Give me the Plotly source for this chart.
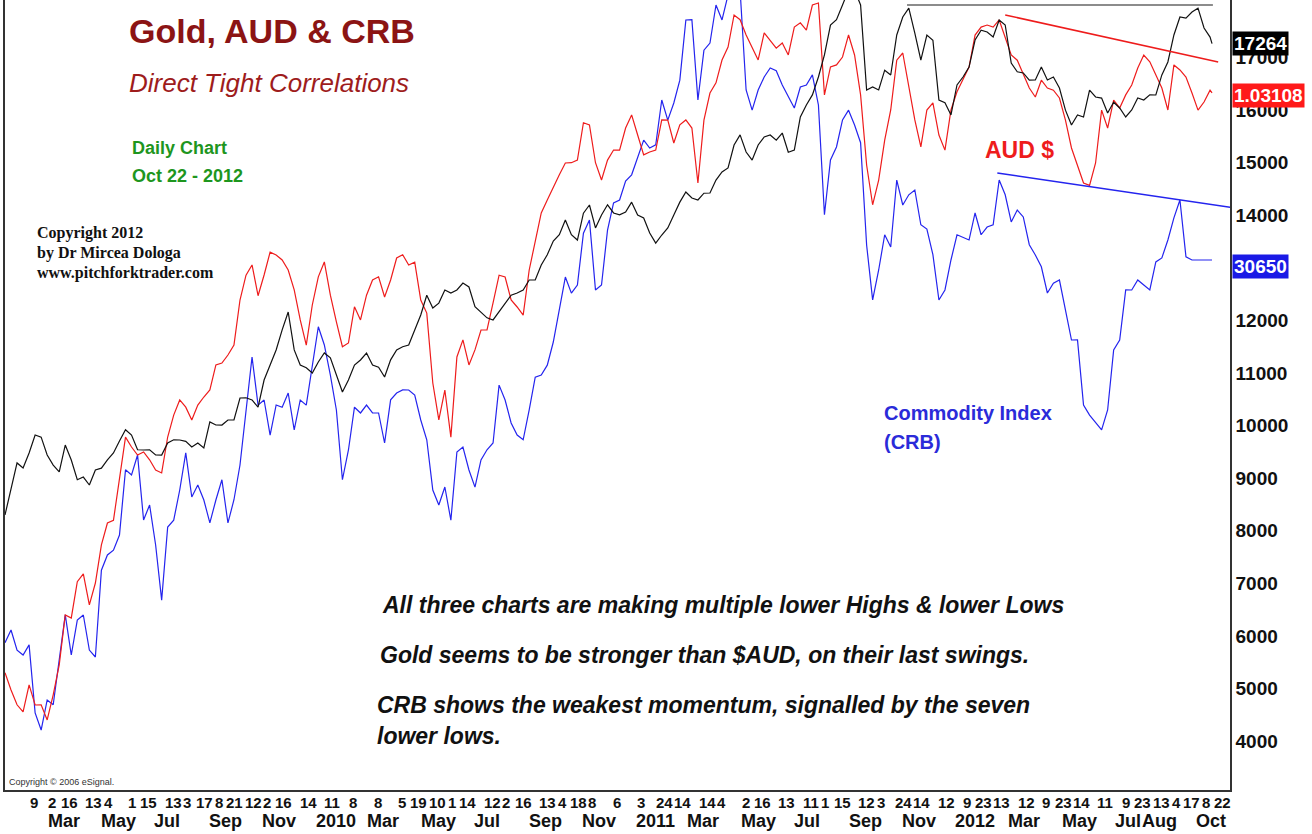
import pandas as pd
import plotly.graph_objects as go

# ---- data (chart display units; one sample every ~6.9 days) ----
sample_dates = list(pd.date_range("2009-01-13 18:00", periods=201, freq=pd.Timedelta(hours=165))) + [pd.Timestamp("2012-10-22")]

gold = [8300, 8775, 9290, 9194, 9480, 9821, 9780, 9441, 9250, 9118,
        9630, 9346, 8970, 9022, 8870, 9156, 9190, 9346, 9480, 9707,
        9920, 9821, 9540, 9536, 9540, 9441, 9440, 9669, 9730, 9726,
        9700, 9593, 9670, 9574, 10070, 10011, 10010, 10107, 10110, 10525,
        10530, 10487, 10350, 10867, 11150, 11438, 11820, 12161, 11440, 11153,
        11100, 11001, 11210, 11381, 11290, 10962, 10640, 10867, 11150, 11248,
        11380, 11153, 11110, 10924, 11250, 11438, 11500, 11533, 11820, 12104,
        12480, 12237, 12330, 12579, 12520, 12579, 12710, 12636, 12260, 12161,
        12050, 12009, 12160, 12332, 12480, 12522, 12580, 12769, 12770, 13055,
        13250, 13511, 13630, 13911, 13630, 13530, 14040, 14196, 13760, 14006,
        14200, 14044, 14010, 14063, 14250, 14006, 13950, 13663, 13470, 13625,
        13760, 14006, 14250, 14443, 14330, 14291, 14420, 14424, 14670, 14824,
        14900, 15337, 15530, 15204, 15050, 15337, 15490, 15527, 15430, 15565,
        15200, 15242, 15870, 16098, 16290, 16630, 17050, 17619, 17720, 18000,
        18285, 18285, 18000, 16383, 16440, 16383, 16760, 16668, 17430, 17772,
        17940, 17467, 16950, 17429, 17330, 16193, 16140, 15908, 16480, 16630,
        16820, 17334, 17520, 17486, 17390, 17715, 17620, 16897, 16730, 16707,
        16570, 16573, 16820, 16573, 16630, 16421, 16000, 15717, 15910, 15870,
        16380, 16250, 16230, 15946, 16150, 16041, 15870, 16003, 16230, 16193,
        16290, 16288, 16670, 16916, 17430, 17772, 17750, 17867, 17940, 17562,
        17390, 17264]

aud = [5300, 4971, 4690, 4553, 5070, 4686, 4690, 4401, 4880, 5447,
       6400, 6341, 7030, 7179, 6590, 7006, 7730, 8148, 8200, 8965,
       9780, 9593, 9440, 9498, 9350, 9156, 9100, 9783, 10200, 10487,
       10350, 10107, 10390, 10544, 10680, 11153, 11190, 11343, 11530, 12389,
       12860, 13055, 12470, 12864, 13300, 13245, 13150, 12960, 12580, 12009,
       11530, 12294, 12830, 13112, 12480, 11971, 11500, 11571, 12260, 12009,
       12480, 12769, 12830, 12446, 12770, 13188, 13250, 13055, 13110, 12389,
       12140, 10810, 10110, 10677, 9780, 11305, 11630, 11153, 11440, 11818,
       11820, 12332, 12860, 12826, 12390, 12256, 12100, 12960, 13470, 14044,
       14290, 14538, 14770, 14995, 15000, 15052, 15760, 15717, 15000, 14671,
       15050, 15242, 15240, 15660, 15910, 15527, 15150, 15204, 15240, 15813,
       15810, 15375, 15720, 15813, 15660, 14614, 15810, 16326, 16520, 16954,
       17200, 17810, 17720, 17429, 17180, 16954, 17470, 17334, 17180, 17277,
       17050, 17581, 17660, 17524, 18000, 18038, 16290, 16821, 16860, 17011,
       17430, 17049, 16290, 14957, 14200, 14671, 15430, 16003, 16950, 17087,
       16440, 15813, 15300, 16003, 16140, 15527, 15240, 16003, 16350, 16573,
       16820, 17429, 17580, 17619, 17580, 17715, 17390, 17049, 16950, 16668,
       16420, 16250, 16570, 16421, 16380, 16231, 15810, 15280, 14960, 14614,
       14570, 14995, 16000, 15660, 16190, 16041, 16290, 16478, 16800, 17049,
       16920, 16668, 16420, 16003, 16860, 16764, 16630, 16326, 16000, 16155,
       16380, 16330]

crb = [5870, 6112, 5730, 5637, 5830, 4534, 4210, 4781, 4690, 5542,
       6400, 5637, 6300, 6398, 5730, 5599, 7250, 7539, 7630, 7919,
       9160, 9060, 9440, 8205, 8490, 7729, 6680, 8071, 8200, 8775,
       9480, 8642, 8870, 8585, 8150, 8585, 8970, 8148, 8590, 9251,
       10300, 11305, 10390, 10487, 9820, 10392, 10350, 10620, 9920, 10487,
       10390, 11153, 11880, 11533, 10960, 10297, 8970, 9536, 10350, 10240,
       10390, 10240, 10240, 9669, 10490, 10620, 10680, 10677, 10580, 10107,
       9730, 8775, 8490, 8832, 8200, 9498, 9590, 9156, 8830, 9346,
       9540, 9669, 10770, 10487, 10050, 9821, 9730, 10297, 10920, 10962,
       11150, 11590, 12200, 12826, 12520, 12674, 13660, 13911, 12580, 12674,
       13720, 14234, 14290, 14652, 14770, 15109, 15430, 15280, 15340, 16193,
       15810, 16136, 16570, 17715, 17720, 16193, 17140, 17277, 18000, 17715,
       18190, 18247, 18285, 16383, 16000, 16383, 16630, 16802, 16750, 16478,
       16250, 16041, 16440, 16478, 16670, 16098, 14010, 15052, 15300, 15813,
       16000, 15717, 15380, 13435, 12390, 12960, 13630, 13397, 14670, 14196,
       14390, 14481, 13820, 13739, 13250, 12389, 12580, 13150, 13630, 13587,
       13530, 14044, 13630, 13777, 13820, 14671, 14390, 13873, 14100, 13968,
       13440, 13245, 13020, 12522, 12710, 12769, 12200, 11628, 11630, 10392,
       10200, 10050, 9920, 10297, 11440, 11628, 12580, 12579, 12770, 12674,
       12580, 13112, 13190, 13530, 13950, 14290, 13210, 13150, 13150, 13150,
       13150, 13150]

# trend lines
gold_line_dates = ["2011-11-09", "2012-10-23"]
gold_line_vals = [18000, 18000]
aud_line_dates = ["2012-02-29", "2012-10-29"]
aud_line_vals = [17810, 16916]
crb_line_dates = ["2012-02-20", "2012-11-12"]
crb_line_vals = [14805, 14150]

# last-value boxes
last_labels = ["17264", "1.03108", "30650"]

# axis labels
y_ticks = list(range(4000, 18001, 1000))
day_label_dates = [
    "2009-02-09", "2009-03-02", "2009-03-16", "2009-04-13", "2009-05-04", "2009-06-01", "2009-06-15",
    "2009-07-13", "2009-08-03", "2009-08-17", "2009-09-08", "2009-09-21", "2009-10-12", "2009-11-02",
    "2009-11-16", "2009-12-14", "2010-01-11", "2010-02-08", "2010-03-08", "2010-04-05", "2010-04-19",
    "2010-05-10", "2010-06-01", "2010-06-14", "2010-07-12", "2010-08-02", "2010-08-16", "2010-09-13",
    "2010-10-04", "2010-10-18", "2010-11-08", "2010-12-06", "2011-01-03", "2011-01-24", "2011-02-14",
    "2011-03-14", "2011-04-04", "2011-05-02", "2011-05-16", "2011-06-13", "2011-07-11", "2011-08-01",
    "2011-08-15", "2011-09-12", "2011-10-03", "2011-10-24", "2011-11-14", "2011-12-12", "2012-01-09",
    "2012-01-23", "2012-02-13", "2012-03-12", "2012-04-09", "2012-04-23", "2012-05-14", "2012-06-11",
    "2012-07-09", "2012-07-23", "2012-08-13", "2012-09-04", "2012-09-17", "2012-10-08", "2012-10-22"]
month_label_dates = [
    "2009-03-01", "2009-05-01", "2009-07-01", "2009-09-01", "2009-11-01", "2010-01-01",
    "2010-03-01", "2010-05-01", "2010-07-01", "2010-09-01", "2010-11-01", "2011-01-01",
    "2011-03-01", "2011-05-01", "2011-07-01", "2011-09-01", "2011-11-01", "2012-01-01",
    "2012-03-01", "2012-05-01", "2012-07-01", "2012-08-01", "2012-10-01"]
month_label_texts = [
    "Mar", "May", "Jul", "Sep", "Nov", "2010", "Mar", "May", "Jul", "Sep", "Nov", "2011",
    "Mar", "May", "Jul", "Sep", "Nov", "2012", "Mar", "May", "Jul", "Aug", "Oct"]

BLACK = "#111111"
RED = "#EE1C1C"
BLUE = "#2424EE"

fig = go.Figure()
fig.add_trace(go.Scatter(x=sample_dates, y=crb, mode="lines", line=dict(color=BLUE, width=1.2), name="CRB"))
fig.add_trace(go.Scatter(x=sample_dates, y=aud, mode="lines", line=dict(color=RED, width=1.2), name="AUD"))
fig.add_trace(go.Scatter(x=sample_dates, y=gold, mode="lines", line=dict(color=BLACK, width=1.2), name="Gold"))
fig.add_trace(go.Scatter(x=gold_line_dates, y=gold_line_vals, mode="lines", line=dict(color="#666666", width=1.5)))
fig.add_trace(go.Scatter(x=aud_line_dates, y=aud_line_vals, mode="lines", line=dict(color=RED, width=1.5)))
fig.add_trace(go.Scatter(x=crb_line_dates, y=crb_line_vals, mode="lines", line=dict(color=BLUE, width=1.5)))

narrow = "Liberation Sans Narrow, Arial Narrow, sans-serif"
sans = "Liberation Sans, Arial, sans-serif"
serif = "Liberation Serif, Times New Roman, serif"

ann = []
# bottom axis: day numbers and months (left aligned at their dates)
for d in day_label_dates:
    ann.append(dict(x=d, xref="x", y=0, yref="paper", xanchor="left", yanchor="middle", yshift=-12,
                    text=str(pd.Timestamp(d).day), showarrow=False,
                    font=dict(family=narrow, size=15, color=BLACK, weight="bold")))
for d, t in zip(month_label_dates, month_label_texts):
    ann.append(dict(x=d, xref="x", y=0, yref="paper", xanchor="left", yanchor="middle", yshift=-31,
                    text=t, showarrow=False,
                    font=dict(family=narrow, size=18, color=BLACK, weight="bold")))

# last value boxes
for val, label, bg, ysh in [(gold[-1], last_labels[0], "#000000", 0),
                            (aud[-1], last_labels[1], "#FF1A1A", -3),
                            (crb[-1], last_labels[2], "#1A1AE6", -7)]:
    ann.append(dict(x=1, xref="paper", y=val, yref="y", xanchor="left", yanchor="middle", xshift=2, yshift=ysh,
                    text=label, showarrow=False, bgcolor=bg, borderpad=1,
                    font=dict(family=narrow, size=19, color="white", weight="bold")))

def txt(x, y, text, size, color, family=sans, weight="normal", style="normal"):
    ann.append(dict(x=x, y=y, xref="paper", yref="paper", xanchor="left", yanchor="middle", text=text,
                    showarrow=False, align="left",
                    font=dict(family=family, size=size, color=color, weight=weight, style=style)))

txt(0.0996, 0.961, "Gold, AUD &amp; CRB", 34, "#8B1414", weight="bold")
txt(0.0996, 0.895, "Direct Tight Correlations", 26, "#9E1C1C", style="italic")
txt(0.102, 0.8127, "Daily Chart", 18, "#1E961E", weight="bold")
txt(0.102, 0.7772, "Oct 22 - 2012", 18, "#1E961E", weight="bold")
txt(0.0245, 0.7051, "Copyright 2012", 16, BLACK, family=serif, weight="bold")
txt(0.0245, 0.6797, "by Dr Mircea Dologa", 16, BLACK, family=serif, weight="bold")
txt(0.0245, 0.6544, "www.pitchforktrader.com", 16, BLACK, family=serif, weight="bold")
txt(0.7984, 0.8101, "AUD $", 23, RED, weight="bold")
txt(0.7159, 0.4772, "Commodity Index", 20, "#2B2BD9", weight="bold")
txt(0.7159, 0.4405, "(CRB)", 20, "#2B2BD9", weight="bold")
txt(0.3061, 0.2342, "All three charts are making multiple lower Highs &amp; lower Lows", 23, BLACK, weight="bold", style="italic")
txt(0.3045, 0.1709, "Gold seems to be stronger than $AUD, on their last swings.", 23, BLACK, weight="bold", style="italic")
txt(0.3020, 0.1076, "CRB shows the weakest momentum, signalled by the seven", 23, BLACK, weight="bold", style="italic")
txt(0.3020, 0.0684, "lower lows.", 23, BLACK, weight="bold", style="italic")
txt(0.0020, 0.0101, "Copyright © 2006 eSignal.", 9, "#333333")

fig.update_layout(
    width=1312, height=834,
    margin=dict(l=5, r=82, t=0, b=44),
    paper_bgcolor="white", plot_bgcolor="white",
    showlegend=False,
    annotations=ann,
    xaxis=dict(type="date", range=["2009-01-13 18:00", "2012-11-11 12:00"], showticklabels=False,
               showgrid=False, zeroline=False, showline=True, linecolor="#333333", linewidth=1.5, ticks=""),
    yaxis=dict(range=[3069, 18095], side="right", tickvals=y_ticks, ticktext=[str(v) for v in y_ticks],
               showgrid=False, zeroline=False, showline=True, mirror=True, linecolor="#333333", linewidth=1.5,
               ticks="", tickfont=dict(family=narrow, size=19, color=BLACK, weight="bold")),
)

fig.write_html("out.html", config={"displayModeBar": False},
               post_script="document.body.style.margin='0';document.body.style.overflow='hidden';")
